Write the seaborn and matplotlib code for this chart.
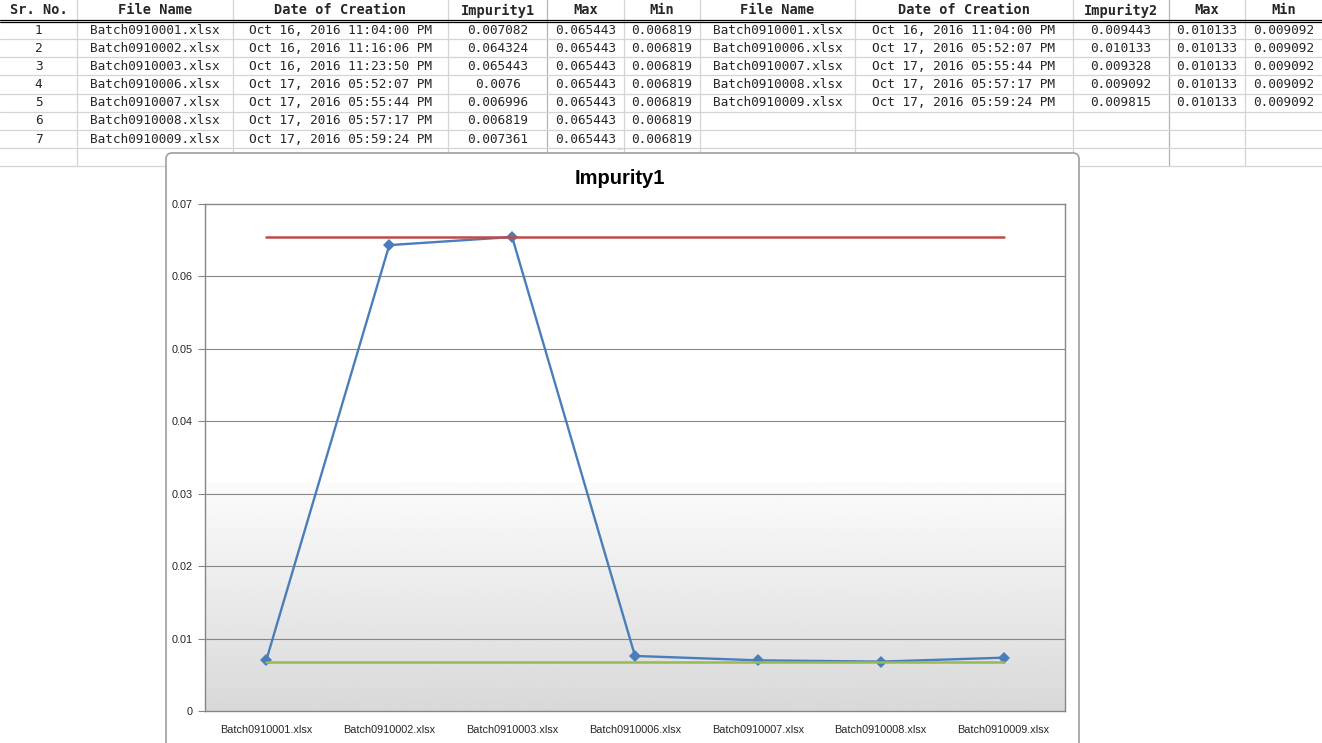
import matplotlib
matplotlib.use("Agg")
import matplotlib.pyplot as plt
import numpy as np
import pandas as pd
import seaborn as sns
from matplotlib.patches import FancyBboxPatch
from matplotlib.ticker import FixedLocator, FuncFormatter

# --- data read from the sheet ---
sr_no = [1, 2, 3, 4, 5, 6, 7]
files1 = ["Batch0910001.xlsx", "Batch0910002.xlsx", "Batch0910003.xlsx", "Batch0910006.xlsx",
          "Batch0910007.xlsx", "Batch0910008.xlsx", "Batch0910009.xlsx"]
dates1 = ["Oct 16, 2016 11:04:00 PM", "Oct 16, 2016 11:16:06 PM", "Oct 16, 2016 11:23:50 PM",
          "Oct 17, 2016 05:52:07 PM", "Oct 17, 2016 05:55:44 PM", "Oct 17, 2016 05:57:17 PM",
          "Oct 17, 2016 05:59:24 PM"]
impurity1 = [0.007082, 0.064324, 0.065443, 0.0076, 0.006996, 0.006819, 0.007361]
max1 = [0.065443, 0.065443, 0.065443, 0.065443, 0.065443, 0.065443, 0.065443]
min1 = [0.006819, 0.006819, 0.006819, 0.006819, 0.006819, 0.006819, 0.006819]

files2 = ["Batch0910001.xlsx", "Batch0910006.xlsx", "Batch0910007.xlsx",
          "Batch0910008.xlsx", "Batch0910009.xlsx"]
dates2 = ["Oct 16, 2016 11:04:00 PM", "Oct 17, 2016 05:52:07 PM", "Oct 17, 2016 05:55:44 PM",
          "Oct 17, 2016 05:57:17 PM", "Oct 17, 2016 05:59:24 PM"]
impurity2 = [0.009443, 0.010133, 0.009328, 0.009092, 0.009815]
max2 = [0.010133, 0.010133, 0.010133, 0.010133, 0.010133]
min2 = [0.009092, 0.009092, 0.009092, 0.009092, 0.009092]

headers = ["Sr. No.", "File Name", "Date of Creation", "Impurity1", "Max", "Min",
           "File Name", "Date of Creation", "Impurity2", "Max", "Min"]
y_ticks = [0, 0.01, 0.02, 0.03, 0.04, 0.05, 0.06, 0.07]

sns.set_style("white")
plt.rcParams["font.family"] = ["Liberation Sans", "DejaVu Sans"]

W, H = 1322, 743
fig = plt.figure(figsize=(W / 100, H / 100), dpi=100)

# --- spreadsheet layer (pixel coordinates) ---
sheet = fig.add_axes([0, 0, 1, 1], zorder=0)
sheet.set_xlim(0, W)
sheet.set_ylim(H, 0)
sheet.axis("off")

col_edges = [0, 77, 233, 448, 547, 624, 700, 855, 1073, 1169, 1245, 1322]
col_mid = [(a + b) / 2 for a, b in zip(col_edges[:-1], col_edges[1:])]
row_h = 18.2
first_row = 30
table_bottom = 166

for x in col_edges[1:-1]:
    c = "#b4b4b4" if x in (547, 1169) else "#d4d4d4"
    sheet.plot([x, x], [0, table_bottom], color=c, lw=0.9)
for i in range(8):
    y = first_row + 9 + i * row_h
    sheet.plot([0, W], [y, y], color="#d4d4d4", lw=0.9)
sheet.plot([0, W], [19.5, 19.5], color="black", lw=0.9)
sheet.plot([0, W], [21.8, 21.8], color="black", lw=0.9)

mono = "DejaVu Sans Mono"
for x, h in zip(col_mid, headers):
    sheet.text(x, 10.5, h, ha="center", va="center", family=mono, fontsize=9.8, fontweight="bold")

cells = dict(ha="center", va="center", family=mono, fontsize=9.2)
for i in range(len(sr_no)):
    y = first_row + i * row_h
    vals = [str(sr_no[i]), files1[i], dates1[i], str(impurity1[i]), str(max1[i]), str(min1[i])]
    for x, v in zip(col_mid[:6], vals):
        sheet.text(x, y, v, **cells)
for i in range(len(files2)):
    y = first_row + i * row_h
    vals = [files2[i], dates2[i], str(impurity2[i]), str(max2[i]), str(min2[i])]
    for x, v in zip(col_mid[6:], vals):
        sheet.text(x, y, v, **cells)

# chart object frame
frame = FancyBboxPatch((166, 153), 913, 640, boxstyle="round,pad=0,rounding_size=6",
                       facecolor="white", edgecolor="#a6a6a6", lw=1.3, zorder=5)
sheet.add_patch(frame)
sheet.text(621, 150.5, "····", ha="center", va="center", fontsize=5, color="#a0a0a0", zorder=6)
sheet.text(620, 178, "Impurity1", ha="center", va="center", fontsize=14.5,
           fontweight="bold", color="black", zorder=6)

# --- chart ---
left, right, top, bottom = 205, 1065, 204, 711
ax = fig.add_axes([left / W, 1 - bottom / H, (right - left) / W, (bottom - top) / H], zorder=2)

# gradient plot-area fill
f = np.linspace(0, 1, 400)
shade = np.where(f > 0.45, 1.0, 0.985 - (0.45 - f) / 0.45 * 0.135)
ax.imshow(np.repeat(shade[:, None], 2, axis=1), cmap="gray", vmin=0, vmax=1, origin="lower",
          extent=[0, 1, 0, 1], transform=ax.transAxes, aspect="auto", zorder=0)

pos = list(range(len(files1)))
df = pd.DataFrame({"pos": pos, "Impurity1": impurity1, "Max": max1, "Min": min1})
sns.lineplot(data=df, x="pos", y="Impurity1", ax=ax, color="#4a7ebb", lw=1.7,
             marker="D", markersize=6.5, markeredgewidth=0, zorder=3)
sns.lineplot(data=df, x="pos", y="Max", ax=ax, color="#be4b48", lw=1.8, zorder=4)
sns.lineplot(data=df, x="pos", y="Min", ax=ax, color="#98b954", lw=1.8, zorder=4)

ax.set_xlim(-0.5, len(files1) - 0.5)
ax.set_ylim(0, 0.07)
ax.set_xlabel("")
ax.set_ylabel("")
ax.set_xticks(pos)
ax.set_xticklabels(files1, fontsize=7.8)
ax.xaxis.set_minor_locator(FixedLocator([p - 0.5 for p in pos] + [len(pos) - 0.5]))
ax.tick_params(axis="x", which="major", length=0, pad=10)
ax.tick_params(axis="x", which="minor", length=5, color="#868686", width=0.8, direction="out")
ax.set_yticks(y_ticks)
ax.yaxis.set_major_formatter(FuncFormatter(lambda v, _: "0" if v == 0 else f"{v:g}"))
ax.tick_params(axis="y", length=5, color="#868686", width=0.8, labelsize=7.8, pad=4, direction="out")
ax.tick_params(axis="both", bottom=True, left=True)
for y in y_ticks[1:-1]:
    ax.axhline(y, color="#868686", lw=0.8, zorder=1)
for s in ax.spines.values():
    s.set_color("#868686")
    s.set_linewidth(1.0)
    s.set_visible(True)

fig.savefig("out.png", dpi=100, facecolor="white")
